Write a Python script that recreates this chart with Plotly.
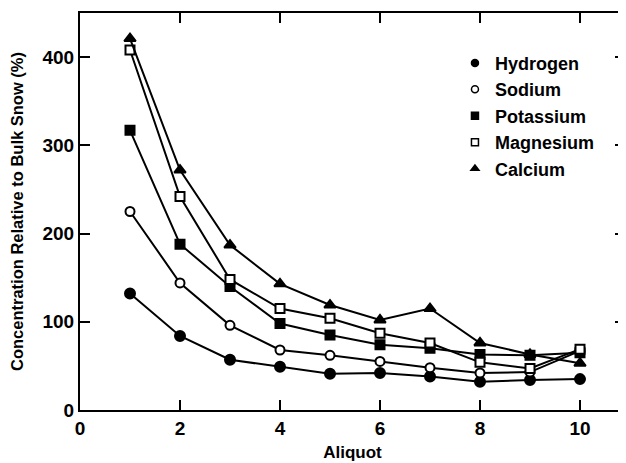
import plotly.graph_objects as go

aliquot = [1, 2, 3, 4, 5, 6, 7, 8, 9, 10]
hydrogen = [132, 84, 57, 49, 41, 42, 38, 32, 34, 35]
sodium = [225, 144, 96, 68, 62, 55, 48, 42, 43, 67]
potassium = [317, 188, 140, 98, 85, 74, 70, 63, 62, 65]
magnesium = [408, 242, 148, 115, 104, 87, 76, 54, 47, 69]
calcium = [421, 272, 187, 143, 119, 102, 115, 76, 63, 53]

names = ["Hydrogen", "Sodium", "Potassium", "Magnesium", "Calcium"]
series = [hydrogen, sodium, potassium, magnesium, calcium]
symbols = ["circle", "circle", "square", "square", "triangle-up"]
fills = ["black", "white", "black", "white", "black"]
sizes = [10, 9, 9, 9, 10]

x_ticks = [0, 2, 4, 6, 8, 10]
y_ticks = [0, 100, 200, 300, 400]

FONT = "Liberation Sans, Arial, sans-serif"

fig = go.Figure()
for name, vals, sym, fill, sz in zip(names, series, symbols, fills, sizes):
    fig.add_trace(go.Scatter(
        x=aliquot, y=vals, mode="lines+markers", name=name, showlegend=False,
        line=dict(color="black", width=2),
        marker=dict(symbol=sym, size=sz, color=fill, line=dict(color="black", width=2)),
    ))
for name, sym, fill in zip(names, symbols, fills):
    fig.add_trace(go.Scatter(
        x=[None], y=[None], mode="markers", name=name, showlegend=True,
        marker=dict(symbol=sym, size=7, color=fill, line=dict(color="black", width=1.5)),
    ))

axis_common = dict(
    showline=True, linecolor="black", linewidth=2, mirror="ticks",
    ticks="inside", ticklen=10, tickwidth=1.5, tickcolor="black",
    showgrid=False, zeroline=False, automargin=False,
    tickfont=dict(family=FONT, size=19, color="black", weight="bold"),
)

# page has an 8px body margin, so the figure is sized/offset to compensate
fig.update_layout(
    width=618, height=455,
    margin=dict(l=72, r=1, t=5, b=53),
    plot_bgcolor="white", paper_bgcolor="white",
    font=dict(family=FONT, color="black"),
    xaxis=dict(range=[0, 10.9], tickvals=x_ticks,
               title=dict(text="Aliquot", font=dict(family=FONT, size=17, weight="bold"), standoff=8),
               **axis_common),
    yaxis=dict(range=[0, 450], tickvals=y_ticks,
               title=dict(text="Concentration Relative to Bulk Snow (%)",
                          font=dict(family=FONT, size=16.5, weight="bold"), standoff=16),
               **axis_common),
    legend=dict(x=0.688, y=0.92, xanchor="left", yanchor="top", bgcolor="rgba(0,0,0,0)",
                itemwidth=30, tracegroupgap=0,
                font=dict(family=FONT, size=18, color="black", weight="bold")),
)

fig.write_html("out.html")
